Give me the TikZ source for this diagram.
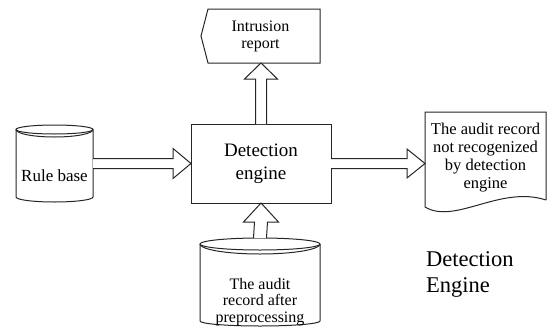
\documentclass[tikz,border=0pt]{standalone}
\usepackage{fontspec}
\setmainfont{LiberationSerif-Regular.ttf}
\usetikzlibrary{calc}

% open block arrow pointing right: #1 base, #2 tip, #3 half shaft, #4 half head, #5 head length
\newcommand\rightblock[5]{%
  \draw[blockarrow] ($(#1)+(0,-#3)$) -- ($(#2)+(-#5,-#3)$) -- ($(#2)+(-#5,-#4)$) -- (#2)
    -- ($(#2)+(-#5,#4)$) -- ($(#2)+(-#5,#3)$) -- ($(#1)+(0,#3)$);}
% open block arrow pointing up: same arguments
\newcommand\upblock[5]{%
  \draw[blockarrow] ($(#1)+(-#3,0)$) -- ($(#2)+(-#3,#5)$) -- ($(#2)+(-#4,#5)$) -- (#2)
    -- ($(#2)+(#4,#5)$) -- ($(#2)+(#3,#5)$) -- ($(#1)+(#3,0)$);}
% database drum drawn round a node: #1 node, #2 half width, #3 top radius,
% #4 radius of the second front rim, #5 bottom radius
\newcommand\drum[5]{%
  \draw[outline] ($(#1.north)+(0,#3)$) ellipse[x radius=#2, y radius=#3];
  \draw[outline] ($(#1.north west)+(0,#3)$) arc[start angle=180, end angle=0, x radius=#2, y radius=#4];
  \draw[outline] ($(#1.north west)+(0,#3)$) -- ($(#1.south west)+(0,-#5)$)
    arc[start angle=180, end angle=0, x radius=#2, y radius=#5] -- ($(#1.north east)+(0,#3)$);}

\begin{document}
\begin{tikzpicture}[x=1pt,y=-1pt,
  outline/.style={draw=black!85,line width=1pt},
  holder/.style={inner sep=0pt,outer sep=0pt},
  blockarrow/.style={draw=black!85,line width=1pt,fill=white,line join=miter},
  txt/.style={inner sep=0pt,align=center,font=\fontsize{16}{17}\selectfont},
]
\useasboundingbox (0,0) rectangle (547,327);

% central process box
\node[outline,holder,minimum width=140pt,minimum height=79pt,align=center,
      font=\fontsize{19}{23}\selectfont] (det) at (261,163.5) {Detection\\engine};

% report (display shape)
\node[holder,txt,minimum width=119pt,minimum height=54pt] (rep) at (260.5,36) {Intrusion\\report};
\draw[outline] ($(rep.north west)+(7,0)$) -- (rep.north east) -- (rep.south east)
  -- ($(rep.south west)+(7,0)$) -- (rep.west) -- cycle;

% rule base drum
\node[holder,minimum width=77pt,minimum height=77pt] (rule) at (54.5,163.5) {};
\drum{rule}{38.5}{4.5}{7.5}{5}
\node[txt,font=\fontsize{17}{20}\selectfont] (ruletext) at (54.5,175.5) {Rule base};

% preprocessed audit record drum
\node[holder,minimum width=120pt,minimum height=88pt] (audit) at (260,282) {};
\drum{audit}{60}{6}{10}{5}
\node[txt,font=\fontsize{16}{16.5}\selectfont] (audittext) at (260,302)
  {The audit\\record after\\preprocessing};

% document of unrecognized records
\node[holder,txt,minimum width=121pt,minimum height=91pt,font=\fontsize{16.5}{18}\selectfont]
  (doc) at (485.5,157.5) {The audit record\\not recogenized\\by detection\\engine};
\draw[outline] ($(doc.south east)+(0,-3)$) -- (doc.north east) -- (doc.north west)
  -- ($(doc.south west)+(0,4)$)
  .. controls ($(doc.south west)+(30,22)$) and ($(doc.south east)+(-46,-18)$) ..
  ($(doc.south east)+(0,-3)$);

% caption
\node[inner sep=0pt,align=left,anchor=west,font=\fontsize{22.5}{26.5}\selectfont]
  (caption) at (426,274.5) {Detection\\Engine};

% data flow
\rightblock{rule.east}{rule.east -| det.west}{5}{15}{18}
\rightblock{det.east}{det.east -| doc.west}{5}{14.5}{18}
\upblock{det.north}{det.north |- rep.south}{5.5}{16.5}{16}
\upblock{audit.north}{det.south}{6.5}{17.5}{19}
\end{tikzpicture}
\end{document}
